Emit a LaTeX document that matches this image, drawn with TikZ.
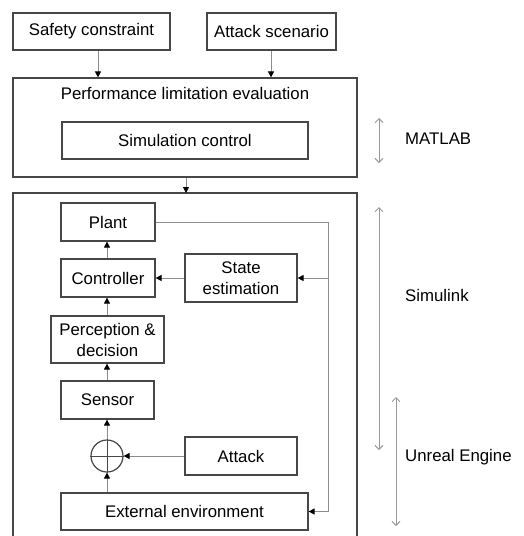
\documentclass[tikz,border=0pt]{standalone}
\usepackage{fontspec}
\setmainfont{Liberation Sans}
\usetikzlibrary{arrows.meta}
\begin{document}
\begin{tikzpicture}[x=1pt,y=-1pt,
  box/.style={draw=black!72,line width=1.2pt,inner sep=0pt,font=\fontsize{16.8}{21}\selectfont},
  conn/.style={draw=black!45,line width=0.9pt,-{Triangle[length=6pt,width=6pt,black,fill=black]}},
  wire/.style={draw=black!45,line width=0.9pt},
  span/.style={draw=black!40,line width=0.9pt,{Straight Barb[length=4pt,width=8pt]}-{Straight Barb[length=4pt,width=8pt]}},
  lbl/.style={anchor=west,inner sep=0pt,font=\fontsize{16.8}{21}\selectfont}]
\useasboundingbox (0,0) rectangle (523,536);

% inputs
\node[box,minimum width=157pt,minimum height=37pt] (safety) at (91.5,31.5) {Safety constraint};
\node[box,minimum width=129pt,minimum height=37pt] (scen) at (271.5,31.5) {Attack scenario};

% MATLAB layer
\node[box,minimum width=344pt,minimum height=99pt] (perf) at (185,127.5) {};
\node[inner sep=0pt,font=\fontsize{16.8}{21}\selectfont] (perft) at (185,93) {Performance limitation evaluation};
\node[box,minimum width=246pt,minimum height=37pt] (simctl) at (185,140.5) {Simulation control};

% Simulink layer (frame open towards the bottom)
\coordinate (frameL) at (13,536);
\coordinate (frameTL) at (13,193);
\coordinate (frameTR) at (357,193);
\coordinate (frameR) at (357,536);
\draw[draw=black!72,line width=1.2pt] (frameL) -- (frameTL) -- (frameTR) -- (frameR);
\coordinate (frametop) at (186,193);

\node[box,minimum width=94pt,minimum height=38pt] (plant) at (108,222) {Plant};
\node[box,minimum width=94pt,minimum height=38pt] (ctrl) at (108,278) {Controller};
\node[box,minimum width=112pt,minimum height=48pt,align=center] (state) at (241,278) {State\\estimation};
\node[box,minimum width=113pt,minimum height=47pt,align=center] (perc) at (107.5,339.5) {Perception \&\\decision};
\node[box,minimum width=93pt,minimum height=38pt] (sensor) at (107.5,400) {Sensor};
\node[draw=black!72,line width=1.2pt,circle,minimum size=32pt,inner sep=0pt] (sum) at (107,456) {};
\draw[black!72,line width=0.9pt] (sum.north) -- (sum.south) (sum.west) -- (sum.east);
\node[box,minimum width=112pt,minimum height=38pt] (attack) at (241,456) {Attack};
\node[box,minimum width=247pt,minimum height=37pt] (env) at (184.5,511.5) {External environment};

% connectors
\draw[conn] (safety.south -| 98,0) -- (perf.north -| 98,0);
\draw[conn] (scen.south -| 271,0) -- (perf.north -| 271,0);
\draw[conn] (perf.south -| frametop) -- (frametop);
\draw[conn] (ctrl.north -| 107,0) -- (plant.south -| 107,0);
\draw[conn] (perc.north -| 107,0) -- (ctrl.south -| 107,0);
\draw[conn] (sensor.north -| 107,0) -- (perc.south -| 107,0);
\draw[conn] (sum.north) -- (sensor.south -| sum);
\draw[conn] (env.north -| sum) -- (sum.south);
\draw[conn] (attack.west) -- (sum.east);
\draw[conn] (state.west) -- (ctrl.east);
\coordinate (fbtop) at (328,222);
\coordinate (fbmid) at (328,278);
\coordinate (fbbot) at (328,511.5);
\draw[wire] (plant.east) -- (fbtop) -- (fbbot);
\draw[conn] (fbmid) -- (state.east);
\draw[conn] (fbbot) -- (env.east);

% tool ranges
\coordinate (mA) at (379,118); \coordinate (mB) at (379,163);
\coordinate (sA) at (379,207); \coordinate (sB) at (379,450);
\coordinate (uA) at (396,397); \coordinate (uB) at (396,526);
\draw[span] (mA) -- (mB);
\draw[span] (sA) -- (sB);
\draw[span] (uA) -- (uB);
\node[lbl] (matlab) at (405,139) {MATLAB};
\node[lbl] (simulink) at (405,295) {Simulink};
\node[lbl] (unreal) at (405,457) {Unreal Engine};
\end{tikzpicture}
\end{document}
